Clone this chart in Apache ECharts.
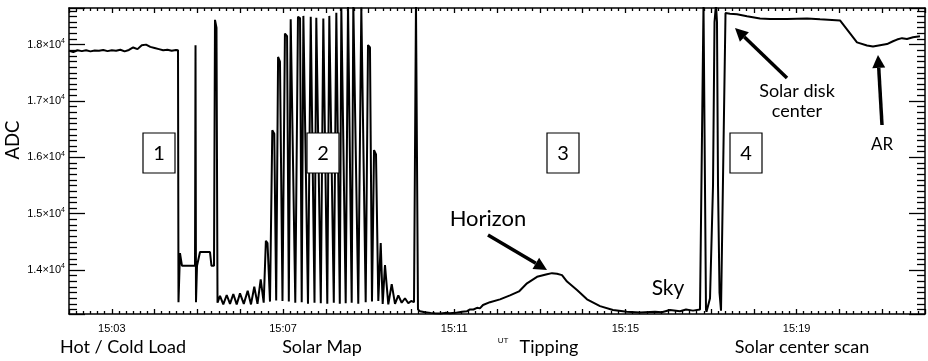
<!DOCTYPE html>
<html><head><meta charset="utf-8">
<script src="https://cdn.jsdelivr.net/npm/echarts@6/dist/echarts.min.js"></script>
<style>html,body{margin:0;padding:0;background:#fff}#c{width:928px;height:361px}</style>
</head><body><div id="c"></div>
<script>
// time in minutes after 15:00 UT, ADC counts
const hotColdTime = [2.0,2.1,2.2,2.3,2.4,2.5,2.6,2.7,2.8,2.9,3.0,3.1,3.2,3.3,3.4,3.5,3.6,3.7,3.8,3.9,4.0,4.1,4.2,4.3,4.4,4.5,
  4.547,4.558,4.593,4.640,4.944,4.956,4.967,4.991,5.026,5.061,5.294,5.329,5.388,5.411,5.446,5.470];
const hotColdAdc = [17890,17870,17900,17885,17900,17880,17895,17890,17905,17885,17900,17890,17910,17880,17905,17950,17920,17990,18000,17960,17940,17920,17900,17910,17890,17905,
  17900,13430,14300,14075,14075,17990,13430,14075,14075,14320,14320,14075,14075,18440,18300,13420];

const solarMapTime = [5.528,5.605,5.685,5.762,5.839,5.918,5.995,6.084,6.175,6.252,6.329,6.404,6.479,6.549,
  6.600,6.638,6.696,6.750,6.796,6.841,6.885,6.929,6.988,7.045,7.095,7.136,7.180,7.226,7.287,7.350,7.398,7.437,7.476,7.520,7.584,
  7.648,7.694,7.736,7.778,7.824,7.883,7.942,7.988,8.035,8.082,8.128,8.187,8.246,8.292,8.327,8.363,8.409,8.465,8.519,8.565,8.605,
  8.643,8.689,8.759,8.830,8.876,8.932,8.986,9.032,9.079,9.127,9.173,9.227,9.283,9.329,9.383,9.460,9.540,9.617,9.694,9.773,9.850,9.928,9.995,
  10.061,10.107,10.119,10.154,10.166];
const solarMapAdc = [13540,13390,13557,13400,13574,13390,13586,13400,13633,13390,13704,13400,13834,13420,
  14520,14480,13440,16482,16420,13460,17782,17700,13450,18197,18150,13440,18450,18420,13420,18493,18470,13430,18510,18490,13400,
  18493,18470,13420,18475,18460,13410,18463,18440,13400,18510,18490,13420,18566,18540,13400,18650,18640,13410,18720,18720,13420,
  18720,18720,13400,18660,18650,13430,17993,17950,13440,16128,16050,13450,14480,13400,14089,13390,13750,13400,13550,13420,13500,13410,
  13450,13430,18720,18720,13300];

const tippingTime = [10.201,10.318,10.45,10.551,10.68,10.785,10.9,11.019,11.182,11.30,11.369,11.45,11.533,11.60,11.673,11.836,12.070,12.304,12.514,12.701,
  12.935,13.168,13.285,13.402,13.519,13.636,13.869,14.103,14.407,14.710,15.037,15.341,15.692,15.85,16.042,16.276,16.416,16.579,16.743,16.825];
const tippingAdc = [13300,13270,13250,13240,13235,13230,13240,13235,13240,13260,13270,13300,13300,13330,13320,13380,13430,13480,13550,13620,
  13765,13880,13925,13945,13935,13910,13795,13645,13480,13360,13290,13260,13245,13260,13250,13290,13270,13300,13280,13300];

const centerScanTime = [16.836,16.883,16.895,16.977,17.047,17.082,17.117,17.140,17.164,17.199,17.234,17.280,17.339,17.350,17.444,17.607,17.841,18.145,18.379,18.776,
  19.243,19.547,20.014,20.411,20.446,20.645,20.785,20.949,21.112,21.252,21.346,21.463,21.579,21.720,21.883,22.000];
const centerScanAdc = [18720,18720,13300,13260,13500,15500,18400,18720,18400,15500,13600,13280,13260,18560,18560,18550,18540,18505,18465,18455,
  18455,18465,18450,18430,18040,18015,17985,17965,17990,18010,18060,18090,18115,18100,18130,18150];

const xTickMinutes = [3, 7, 11, 15, 19];
const xTickLabels = ['15:03', '15:07', '15:11', '15:15', '15:19'];
const yTickValues = [14000, 15000, 16000, 17000, 18000];
const yTickLabels = ['1.4', '1.5', '1.6', '1.7', '1.8'];
const xRange = [2, 22];
const yRange = [13220, 18650];

const times = [].concat(hotColdTime, solarMapTime, tippingTime, centerScanTime);
const adc = [].concat(hotColdAdc, solarMapAdc, tippingAdc, centerScanAdc);
const seriesData = times.map((t, i) => [t, adc[i]]);

const chart = echarts.init(document.getElementById('c'));
const LF = 'Lato, "Open Sans", sans-serif';
const AF = '"Liberation Sans", Arial, sans-serif';

function xFmt(v) {
  const r = Math.round(v);
  if (Math.abs(v - r) > 1e-6) return '';
  const i = xTickMinutes.indexOf(r);
  return i >= 0 ? xTickLabels[i] : '';
}
function yFmt(v) {
  const i = yTickValues.indexOf(Math.round(v));
  if (i < 0 || Math.abs(v - Math.round(v)) > 1e-6) return '';
  return '{m|' + yTickLabels[i] + '×10}{s|4}';
}

function arrow(x1, y1, x2, y2) {
  const ang = Math.atan2(y2 - y1, x2 - x1);
  const hl = 13, hw = 6.5;
  const bx = x2 - hl * Math.cos(ang), by = y2 - hl * Math.sin(ang);
  const px = -Math.sin(ang), py = Math.cos(ang);
  return [
    {type: 'line', shape: {x1: x1, y1: y1, x2: bx, y2: by}, style: {stroke: '#000', lineWidth: 3.5}},
    {type: 'polygon', shape: {points: [[x2, y2], [bx + px * hw, by + py * hw], [bx - px * hw, by - py * hw]]}, style: {fill: '#000'}}
  ];
}
function txt(s, x, y, size, extra) {
  return Object.assign({type: 'text', x: x, y: y, style: {text: s, x: 0, y: 0, fill: '#000', font: size + 'px ' + LF,
    align: 'center', verticalAlign: 'middle', textAlign: 'center', textVerticalAlign: 'middle'}}, extra || {});
}
function box(label, x, y) {
  return [
    {type: 'rect', shape: {x: x, y: y, width: 32, height: 40}, style: {fill: '#fff', stroke: '#000', lineWidth: 1.2}, z: 10},
    Object.assign(txt(label, x + 16, y + 20.5, 20), {z: 11})
  ];
}

const graphics = [].concat(
  box('1', 143, 133), box('2', 307, 133), box('3', 547, 133), box('4', 730, 133),
  arrow(488, 235, 547, 270), arrow(787, 78, 735, 28), arrow(882, 125, 878, 55),
  [
    txt('Horizon', 488, 219, 22),
    txt('Sky', 668, 288, 21),
    txt('Solar disk', 797, 91, 18),
    txt('center', 797, 111, 18),
    txt('AR', 882, 145, 17),
    txt('Hot / Cold Load', 123, 347.5, 18),
    txt('Solar Map', 322, 347.5, 18),
    {type: 'text', x: 503, y: 341, style: {text: 'UT', x: 0, y: 0, fill: '#000', font: '8px ' + AF, align: 'center', verticalAlign: 'middle', textAlign: 'center', textVerticalAlign: 'middle'}},
    txt('Tipping', 549, 347.5, 18),
    txt('Solar center scan', 802, 347.5, 18),
    txt('ADC', 13, 140, 18.5, {rotation: Math.PI / 2})
  ]
);

function mkX(pos, showLabel) {
  return {
    type: 'value', min: xRange[0], max: xRange[1], interval: 1, position: pos,
    axisLine: {show: true, onZero: false, lineStyle: {color: '#000', width: 1.5}},
    splitLine: {show: false},
    axisTick: {show: true, inside: true, length: 5, lineStyle: {color: '#000', width: 1.3}},
    minorTick: {show: true, splitNumber: 6, length: 3, lineStyle: {color: '#000', width: 1.3}},
    axisLabel: {show: showLabel, formatter: xFmt, color: '#000', fontSize: 11, fontFamily: AF, margin: 9}
  };
}
function mkY(pos, showLabel) {
  return {
    type: 'value', min: yRange[0], max: yRange[1], splitNumber: 5, position: pos,
    axisLine: {show: true, onZero: false, lineStyle: {color: '#000', width: 1.5}},
    splitLine: {show: false},
    axisTick: {show: true, inside: true, length: 16, lineStyle: {color: '#000', width: 1.3}},
    minorTick: {show: true, splitNumber: 10, length: 8, lineStyle: {color: '#000', width: 1.3}},
    axisLabel: {show: showLabel, formatter: yFmt, margin: 4, color: '#000',
      rich: {m: {fontSize: 11, fontFamily: AF, color: '#000', lineHeight: 14},
             s: {fontSize: 7, fontFamily: AF, color: '#000', lineHeight: 14, verticalAlign: 'top', padding: [0, 0, 6, 0]}}}
  };
}

chart.setOption({
  animation: false,
  grid: {left: 69, right: 3, top: 8, bottom: 47},
  xAxis: [mkX('bottom', true), mkX('top', false)],
  yAxis: [mkY('left', true), mkY('right', false)],
  series: [{
    type: 'line', xAxisIndex: 0, yAxisIndex: 0, data: seriesData, showSymbol: false, symbol: 'none',
    clip: true, lineStyle: {color: '#000', width: 2}, z: 3
  }],
  graphic: graphics
});
</script></body></html>
